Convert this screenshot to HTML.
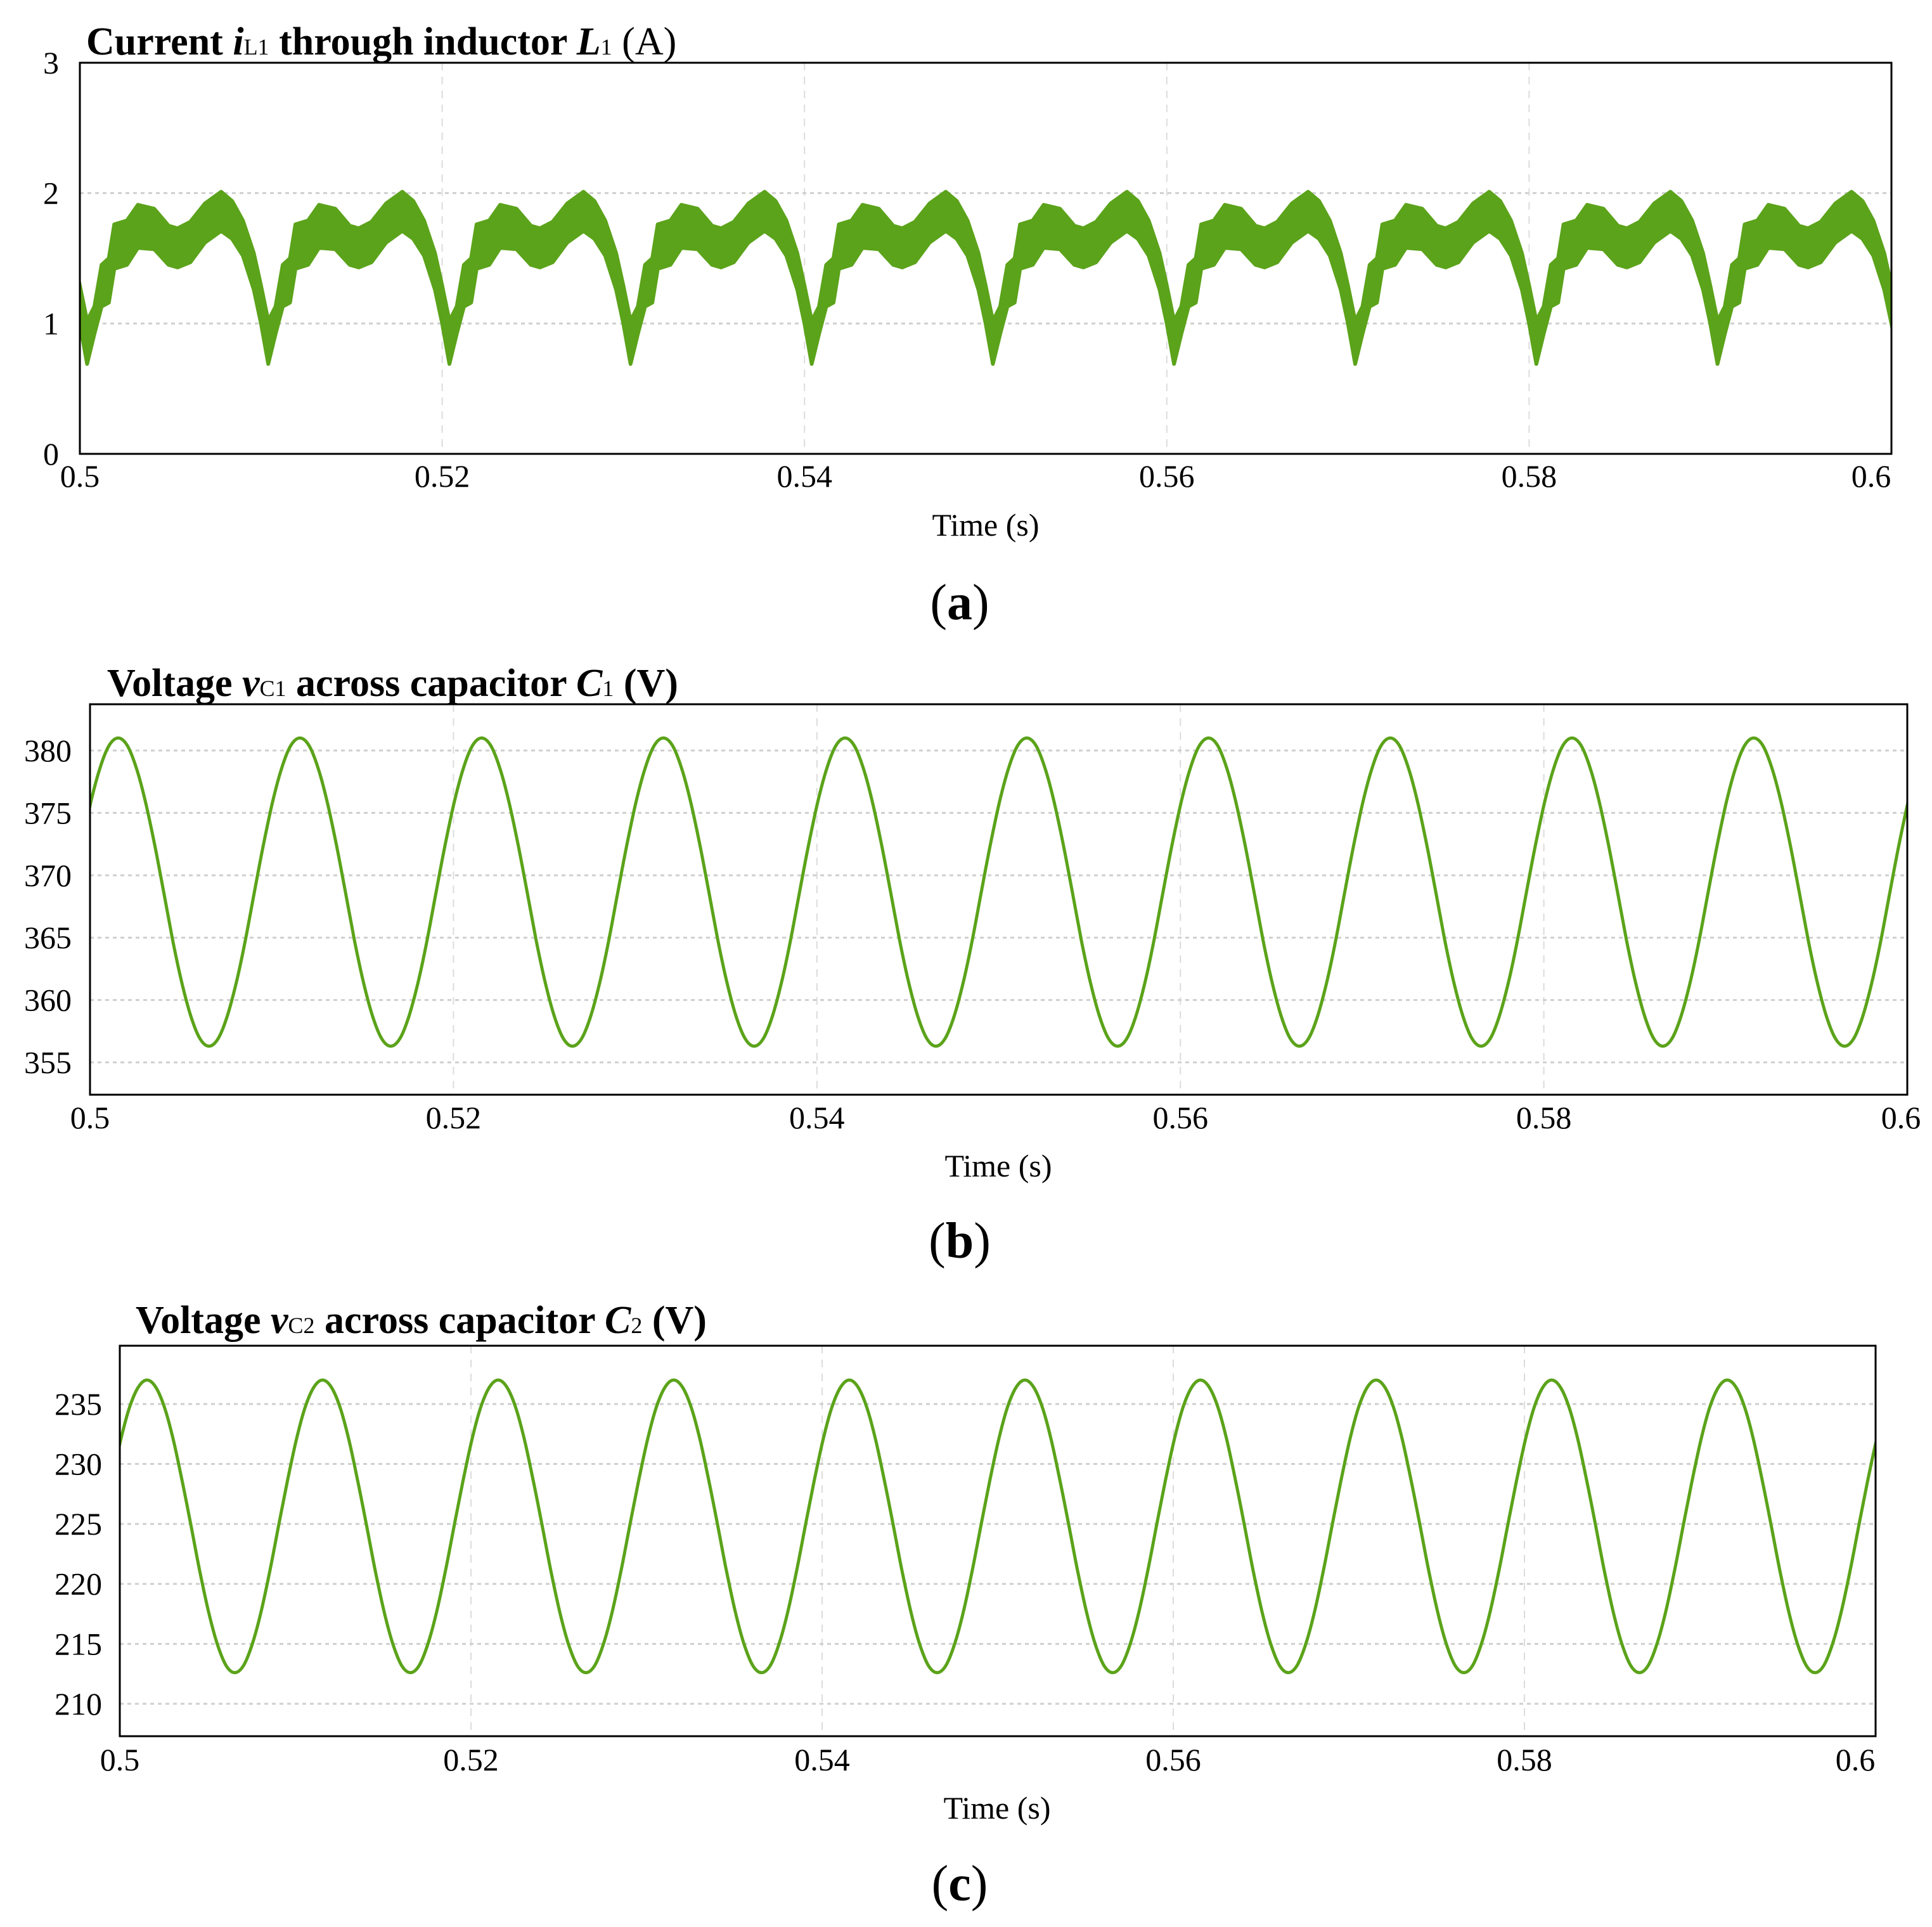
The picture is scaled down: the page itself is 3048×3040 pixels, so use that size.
<!DOCTYPE html>
<html><head><meta charset="utf-8"><style>
html,body{margin:0;padding:0;background:#fff}
svg{display:block}
text{font-family:"Liberation Serif",serif;fill:#000}
.tick{font-size:50px}
.ttl{font-size:62px;font-weight:bold}
.sub{font-size:36px;font-weight:normal}
.cap{font-size:80px;font-weight:bold}
</style></head><body>
<svg id="fig" width="3048" height="3040" viewBox="0 0 3048 3040" xmlns="http://www.w3.org/2000/svg">
<g id="pa"></g>
<g id="pb"></g>
<g id="pc"></g>

<text x="136" y="86" class="ttl">Current <tspan font-style="italic">i</tspan><tspan class="sub">L1</tspan> through inductor <tspan font-style="italic">L</tspan><tspan class="sub">1</tspan><tspan font-weight="normal"> (A)</tspan></text>
<text x="1555" y="845" class="tick" text-anchor="middle">Time (s)</text>
<text x="1514" y="977" class="cap" text-anchor="middle"><tspan font-weight="normal">(</tspan>a<tspan font-weight="normal">)</tspan></text>

<text x="169" y="1098" class="ttl">Voltage <tspan font-style="italic">v</tspan><tspan class="sub">C1</tspan> across capacitor <tspan font-style="italic">C</tspan><tspan class="sub">1</tspan> (V)</text>
<text x="1575" y="1856" class="tick" text-anchor="middle">Time (s)</text>
<text x="1514" y="1984" class="cap" text-anchor="middle"><tspan font-weight="normal">(</tspan>b<tspan font-weight="normal">)</tspan></text>

<text x="214" y="2103" class="ttl">Voltage <tspan font-style="italic">v</tspan><tspan class="sub">C2</tspan> across capacitor <tspan font-style="italic">C</tspan><tspan class="sub">2</tspan> (V)</text>
<text x="1573" y="2869" class="tick" text-anchor="middle">Time (s)</text>
<text x="1514" y="2998" class="cap" text-anchor="middle"><tspan font-weight="normal">(</tspan>c<tspan font-weight="normal">)</tspan></text>
</svg>
<script>
// shared x ticks
const xTicks = [0.5, 0.52, 0.54, 0.56, 0.58, 0.6];
const xTickLabels = ["0.5", "0.52", "0.54", "0.56", "0.58", "0.6"];
const period = 0.01;
// panel a: current envelope over one period (phase from trough)
const iPhase = [0, 0.04, 0.08, 0.12, 0.15, 0.22, 0.28, 0.37, 0.45, 0.50, 0.57, 0.65, 0.74, 0.80, 0.86, 0.92, 0.96, 1.0];
const iUpper = [1.02, 1.13, 1.45, 1.50, 1.76, 1.79, 1.91, 1.88, 1.75, 1.73, 1.78, 1.92, 2.01, 1.94, 1.79, 1.54, 1.29, 1.02];
const iLower = [0.69, 0.92, 1.13, 1.16, 1.42, 1.45, 1.58, 1.57, 1.45, 1.43, 1.47, 1.62, 1.71, 1.65, 1.52, 1.26, 1.00, 0.69];
const iTroughTime = 0.50040;
const aYTicks = [0, 1, 2, 3];
// panel b: vC1 over one period (phase from peak)
const vPhase = [0,0.05,0.1,0.15,0.2,0.25,0.3,0.35,0.4,0.45,0.5,0.55,0.6,0.65,0.7,0.75,0.8,0.85,0.9,0.95,1.0];
const vC1 = [381,380.4,378.6,375.9,372.5,368.7,364.8,361.4,358.7,356.9,356.3,356.9,358.7,361.4,364.8,368.7,372.5,375.9,378.6,380.4,381];
const vC1PeakTime = 0.50155;
const bYTicks = [355, 360, 365, 370, 375, 380];
// panel c: vC2
const vC2 = [237.0,236.4,234.7,232.0,228.6,224.9,221.1,217.7,215.0,213.2,212.6,213.2,215.0,217.7,221.1,224.9,228.6,232.0,234.7,236.4,237.0];
const vC2PeakTime = 0.50155;
const cYTicks = [210, 215, 220, 225, 230, 235];

const NS = "http://www.w3.org/2000/svg";
function mk(tag, attrs, parent){const e=document.createElementNS(NS,tag);for(const k in attrs)e.setAttribute(k,attrs[k]);parent.appendChild(e);return e;}
const GREEN = "#5ba31a";

function panel(g, L, R, T, B, y0, y1, yTicks, yLabRight, xLabY, clipId, lastShift){
  const sx = t => L + (t-0.5)/(0.1)*(R-L);
  const sy = v => B - (v-y0)/(y1-y0)*(B-T);
  xTicks.forEach((t,i)=>{
    if(i>0 && i<xTicks.length-1){
      const gl = mk("line",{x1:sx(t),x2:sx(t),y1:T,y2:B,stroke:"#dcdcdc","stroke-width":2,"stroke-dasharray":"12,10"},g);
      
      
    }
    const xx = sx(t) - (i===xTicks.length-1 ? lastShift : 0);
    const tx = mk("text",{x:xx,y:xLabY,"text-anchor":"middle",class:"tick"},g);
    
    
    tx.textContent = xTickLabels[i];
  });
  yTicks.forEach(v=>{
    const y = sy(v);
    if(y>T+2 && y<B-2){
      const gl = mk("line",{x1:L,x2:R,y1:y,y2:y,stroke:"#cfcfcf","stroke-width":3,"stroke-dasharray":"6,6"},g);
      
      
    }
    const tx = mk("text",{x:yLabRight,y:y+17,"text-anchor":"end",class:"tick"},g);
    
    
    tx.textContent = String(v);
  });
  const cp = mk("clipPath",{id:clipId},g);
  mk("rect",{x:L,y:T,width:R-L,height:B-T},cp);
  return {sx, sy};
}
function frame(g,L,R,T,B){
  const f = mk("rect",{x:L,y:T,width:R-L,height:B-T,fill:"none",stroke:"#000","stroke-width":3},g);
  
  
}

// Panel A
(function(){
  const g=document.getElementById("pa");
  const L=126,R=2984,T=99,B=716;
  const {sx,sy}=panel(g,L,R,T,B,0,3,aYTicks,93,768,"clipA",32);
  let up=[],lo=[];
  for(let k=-1;k<=10;k++){
    iPhase.forEach((p,j)=>{
      if(j===iPhase.length-1)return;
      const t=iTroughTime+(k+p)*period;
      up.push([sx(t).toFixed(1),sy(iUpper[j]).toFixed(1)]);
      lo.push([sx(t).toFixed(1),sy(iLower[j]).toFixed(1)]);
    });
  }
  const d="M"+up.map(p=>p.join(",")).join(" L")+" L"+lo.reverse().map(p=>p.join(",")).join(" L")+" Z";
  const band=mk("path",{d:d,fill:GREEN,stroke:GREEN,"stroke-width":6,"stroke-linejoin":"round","clip-path":"url(#clipA)"},g);
  
  
  frame(g,L,R,T,B);
})();

function voltPanel(gid,L,R,T,B,y0,y1,ticks,labR,xLabY,vals,peak,clip,name,lastShift){
  const g=document.getElementById(gid);
  const {sx,sy}=panel(g,L,R,T,B,y0,y1,ticks,labR,xLabY,clip,lastShift);
  let pts=[];
  for(let k=-1;k<=10;k++){
    vPhase.forEach((p,j)=>{
      if(j===vPhase.length-1)return;
      pts.push([sx(peak+(k+p)*period),sy(vals[j])]);
    });
  }
  let d="M"+pts[0][0].toFixed(1)+","+pts[0][1].toFixed(1);
  for(let i=0;i<pts.length-1;i++){
    const p0=pts[Math.max(0,i-1)],p1=pts[i],p2=pts[i+1],p3=pts[Math.min(pts.length-1,i+2)];
    const c1=[p1[0]+(p2[0]-p0[0])/6,p1[1]+(p2[1]-p0[1])/6];
    const c2=[p2[0]-(p3[0]-p1[0])/6,p2[1]-(p3[1]-p1[1])/6];
    d+=" C"+c1.map(n=>n.toFixed(1)).join(",")+" "+c2.map(n=>n.toFixed(1)).join(",")+" "+p2.map(n=>n.toFixed(1)).join(",");
  }
  const ln=mk("path",{d:d,fill:"none",stroke:GREEN,"stroke-width":5,"stroke-linejoin":"round","clip-path":"url(#"+clip+")"},g);
  
  
  frame(g,L,R,T,B);
}
voltPanel("pb",142,3009,1111,1727,352.41,383.71,bYTicks,113,1780,vC1,vC1PeakTime,"clipB","voltage-vc1-line",10);
voltPanel("pc",189,2959,2123,2739,207.3,239.86,cYTicks,161,2793,vC2,vC2PeakTime,"clipC","voltage-vc2-line",32);
</script>
</body></html>
